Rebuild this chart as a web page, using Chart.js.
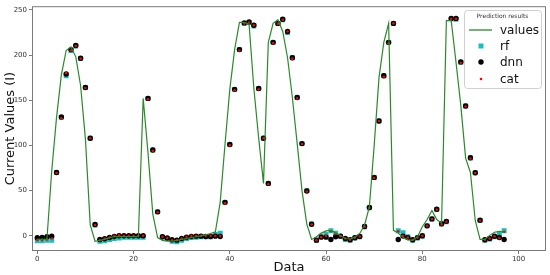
<!DOCTYPE html>
<html>
<head>
<meta charset="utf-8">
<script src="https://cdn.jsdelivr.net/npm/chart.js@4.4.1/dist/chart.umd.min.js"></script>
<style>
  html, body { margin: 0; padding: 0; background: #fff; }
  #wrap { width: 550px; height: 275px; }
</style>
</head>
<body>
<div id="wrap"><canvas id="chart" width="550" height="275"></canvas></div>
<script>
// actual measured current
const values = [
  -4, -4, -4, 72, 131, 178, 205, 209, 198, 166,
  107, 12, -6, -5, -4, -2, -1, -1, -1, -1,
  -1, -1, 152, 92, 24, -2, -5, -6, -6, -5,
  -4, -3, -2, -1, 0, 1, 2.5, 4.4, 37, 101,
  162, 206, 236, 236, 234, 163, 108, 58, 214, 235,
  239, 226, 197, 153, 102, 50, 13, -4, -1, 3,
  5.5, 6, 3.5, 0, -3, -3.5, -1.5, 2.6, 12, 32,
  100, 175, 214, 235, 6, 3, -2, -4.5, -5, -1,
  10, 18, 28, 18, 14, 238, 238, 192, 144, 86,
  70, 17, -4, -4, 0.5, 4, 5, 4
];

// random forest
const rf = [
  -5.5, -5.5, -5, -5, 70, 131, 177, 205, 210, 196,
  164, 108, 12, -6, -5.5, -4, -3, -2.5, -1.5, -1.5,
  -1.5, -1.5, -1.5, 152, 95, 26.5, -1.5, -3, -6, -6.5,
  -5, -3, -2, -1.5, -1, -1, -1, 1.5, 3, 37,
  101, 162, 206, 235, 236, 232, 163, 108, 58, 214,
  235, 239, 225, 197, 153, 102, 50, 13, -5, -0.5,
  1.5, 5.5, 3, -0.5, -4, -5, -2.5, -1, 10, 31,
  64.6, 127, 177, 214, 235, 5.5, 3.3, -1, -5, -2.5,
  -0.5, 11, 18.7, 29, 13, 15.5, 240, 239.5, 192, 143.6,
  86, 69.8, 17, -5, -3.5, -1, 1.5, 5.5
];

// neural net
const dnn = [
  -2.2, -1.8, -1, -0.4, 70, 131.5, 179, 206, 210.5, 196.5,
  164, 108, 12.5, -4, -3.3, -1.8, -0.7, 0, 0, 0,
  0, 0, 0, 152, 95, 26.5, -1, -2.5, -4.4, -4.8,
  -3, -1.5, -0.7, -0.4, -0.4, -0.7, -0.7, -0.4, -0.7, 37,
  101, 162, 206, 235.5, 236.5, 233, 163, 108, 58, 214,
  235, 239.5, 226, 197, 153, 102, 49.6, 12.8, -4.8, -1.5,
  -1.5, -4, -1, -0.4, -3, -4.4, -2.2, -0.7, 10.3, 31.3,
  64.6, 127, 177, 214, 235, -4, -0.3, -2, -4.4, -2,
  0, 11, 18.7, 29.4, 13.3, 16, 240.5, 240.5, 192.4, 143.6,
  86.3, 69.8, 17.3, -4.4, -3, -0.5, -1.8, -4
];

// catboost
const cat = [
  -4.5, -4.5, -4, -3, 69.5, 130, 180, 205, 210, 196,
  163.5, 108, 12, -5, -3, -2, 0, 0.5, 0, 0,
  0, 0, 0, 151, 94, 26, -1, -2.5, -5, -5,
  -3, -1, 0, 0, 0, 0, 0, 0, 0, 36,
  100, 161, 205, 235, 236, 233, 162, 108, 57, 213,
  234.5, 239, 226, 196, 152, 101.5, 49, 12.5, -4.8, -1.5,
  0, 5, 2, -0.4, -3, -4.4, -2.2, -0.7, 10, 31,
  64, 127, 176, 213, 235, 5, 0, -2, -4.4, -2,
  0, 11, 18.5, 29, 12.5, 15.5, 240, 240, 191.5, 143,
  85.5, 69.5, 17, -4.4, -3, -0.5, -2.5, 4.5
];

const xTicks = [0, 20, 40, 60, 80, 100];
const yTicks = [0, 50, 100, 150, 200, 250];

function pts(arr) {
  return arr.map((v, i) => ({ x: i, y: v }));
}

const FONT = "'DejaVu Sans', sans-serif";
const frameColor = '#7a7a7a';

// matplotlib style box + legend drawn inside the axes
const framePlugin = {
  id: 'frame',
  afterDraw(chart) {
    const ctx = chart.ctx;
    const a = chart.chartArea;
    ctx.save();
    ctx.strokeStyle = frameColor;
    ctx.lineWidth = 1;
    ctx.strokeRect(a.left + 0.5, a.top + 0.5, a.right - a.left - 1, a.bottom - a.top - 1);

    // legend
    const bx = 464, by = 10, bw = 77, bh = 78;
    ctx.fillStyle = 'rgba(255,255,255,0.85)';
    ctx.strokeStyle = '#d0d0d0';
    ctx.beginPath();
    ctx.roundRect(bx + 0.5, by + 0.5, bw, bh, 3);
    ctx.fill();
    ctx.stroke();

    ctx.fillStyle = '#333';
    ctx.font = '6px ' + FONT;
    ctx.textAlign = 'center';
    ctx.textBaseline = 'middle';
    ctx.fillText('Prediction results', bx + bw / 2, by + 6.5);

    const rows = [30, 46, 62, 79];
    ctx.font = '12px ' + FONT;
    ctx.textAlign = 'left';
    chart.data.datasets.forEach((ds, k) => {
      const y = rows[k];
      if (ds.showLine) {
        ctx.strokeStyle = ds.borderColor;
        ctx.lineWidth = 1.3;
        ctx.beginPath();
        ctx.moveTo(469, y);
        ctx.lineTo(492, y);
        ctx.stroke();
      } else {
        ctx.fillStyle = ds.backgroundColor;
        if (ds.pointStyle === 'rect') {
          ctx.fillRect(478.5, y - 2.5, 5, 5);
        } else {
          ctx.beginPath();
          ctx.arc(481, y, ds.pointRadius, 0, Math.PI * 2);
          ctx.fill();
        }
      }
      ctx.fillStyle = '#111';
      ctx.fillText(ds.label, 500, y + 0.5);
    });
    ctx.restore();
  }
};

new Chart(document.getElementById('chart'), {
  type: 'scatter',
  data: {
    datasets: [
      {
        label: 'values',
        data: pts(values),
        showLine: true,
        borderColor: '#2a8a2a',
        backgroundColor: '#2a8a2a',
        borderWidth: 1.2,
        pointRadius: 0,
        tension: 0,
        order: 0
      },
      {
        label: 'rf',
        data: pts(rf),
        pointStyle: 'rect',
        pointRadius: 3.5,
        backgroundColor: '#17bfbf',
        borderWidth: 0,
        order: 3
      },
      {
        label: 'dnn',
        data: pts(dnn),
        pointRadius: 2.7,
        backgroundColor: '#000000',
        borderWidth: 0,
        order: 2
      },
      {
        label: 'cat',
        data: pts(cat),
        pointRadius: 1.3,
        backgroundColor: '#ff0000',
        borderWidth: 0,
        order: 1
      }
    ]
  },
  options: {
    responsive: false,
    animation: false,
    layout: { padding: { top: 5, right: 4, left: 0, bottom: 0 } },
    plugins: {
      legend: { display: false },
      tooltip: { enabled: false }
    },
    scales: {
      x: {
        type: 'linear',
        min: -1.1,
        max: 105.7,
        afterFit(scale) { scale.height = 24; },
        afterBuildTicks(scale) { scale.ticks = xTicks.map(v => ({ value: v })); },
        grid: { drawOnChartArea: false, drawTicks: true, tickLength: 3, color: frameColor },
        border: { display: false },
        ticks: { font: { family: FONT, size: 7 }, color: '#333', padding: 1, maxRotation: 0 },
        title: { display: true, text: 'Data', font: { family: FONT, size: 13 }, color: '#111', padding: { top: 0, bottom: 0 } }
      },
      y: {
        type: 'linear',
        min: -16.8,
        max: 254,
        afterFit(scale) { scale.width = 32; },
        afterBuildTicks(scale) { scale.ticks = yTicks.map(v => ({ value: v })); },
        grid: { drawOnChartArea: false, drawTicks: true, tickLength: 3, color: frameColor },
        border: { display: false },
        ticks: { font: { family: FONT, size: 7 }, color: '#333', padding: 2 },
        title: { display: true, text: 'Current Values (I)', font: { family: FONT, size: 13 }, color: '#111', padding: { top: 3, bottom: 0 } }
      }
    }
  },
  plugins: [framePlugin]
});
</script>
</body>
</html>
